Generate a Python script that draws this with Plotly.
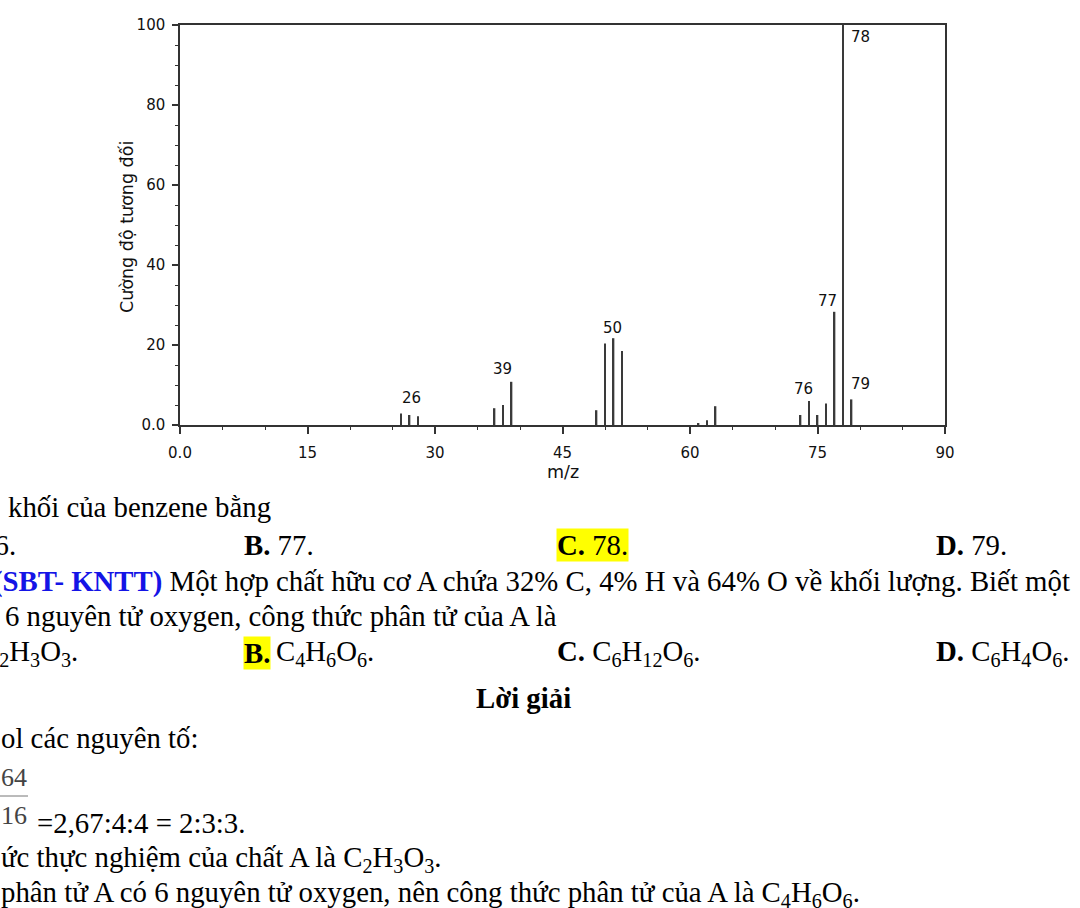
import plotly.graph_objects as go

# ---- data ----
mz = [26, 27, 28, 37, 38, 39, 49, 50, 51, 52, 61, 62, 63, 73, 74, 75, 76, 77, 78, 79]
intensity = [2.9, 2.5, 2.2, 4.2, 5.0, 10.8, 3.7, 20.4, 21.7, 18.5, 0.5, 1.2, 4.7,
             2.5, 6.0, 2.5, 5.4, 28.3, 100, 6.4]

x_tickvals = [0, 15, 30, 45, 60, 75, 90]
x_ticktext = ["0.0", "15", "30", "45", "60", "75", "90"]
y_tickvals = [0, 20, 40, 60, 80, 100]
y_ticktext = ["0.0", "20", "40", "60", "80", "100"]

peak_labels = ["26", "39", "50", "76", "77", "78", "79"]
peak_label_x = [27.2, 37.9, 50.9, 73.3, 76.2, 80.0, 80.1]
peak_label_y = [6.8, 14.0, 24.3, 9.0, 31.1, 97.0, 10.3]

W, H = 1080, 908

fig = go.Figure()
fig.add_trace(go.Bar(x=mz, y=intensity, width=0.2,
                     marker=dict(color="#3a3a3a", line=dict(width=0)),
                     showlegend=False, hoverinfo="x+y"))
# invisible full-page pixel coordinate system used to place the page text
fig.add_trace(go.Scatter(x=[], y=[], xaxis="x2", yaxis="y2", showlegend=False,
                         hoverinfo="skip"))

axis_font = dict(family="DejaVu Sans", size=15, color="#111")
line_col = "#333"

fig.update_layout(
    width=W, height=H,
    margin=dict(l=0, r=0, t=0, b=0, autoexpand=False),
    paper_bgcolor="white", plot_bgcolor="rgba(0,0,0,0)",
    xaxis=dict(domain=[180 / W, 945 / W], range=[0, 90], anchor="y",
               tickvals=x_tickvals, ticktext=x_ticktext,
               ticks="outside", ticklen=7, tickwidth=1.5, tickcolor=line_col,
               minor=dict(dtick=5, tick0=0, ticks="outside", ticklen=3,
                          tickwidth=1, tickcolor=line_col),
               showline=True, mirror=True, linecolor=line_col, linewidth=1.5,
               showgrid=False, zeroline=False, tickfont=axis_font,
               ticklabelstandoff=6, automargin=False, fixedrange=True),
    yaxis=dict(domain=[1 - 425 / H, 1 - 25 / H], range=[0, 100], anchor="x",
               tickvals=y_tickvals, ticktext=y_ticktext,
               ticks="outside", ticklen=6, tickwidth=1.5, tickcolor=line_col,
               minor=dict(dtick=5, tick0=0, ticks="outside", ticklen=3,
                          tickwidth=1, tickcolor=line_col),
               showline=True, mirror=True, linecolor=line_col, linewidth=1.5,
               showgrid=False, zeroline=False, tickfont=axis_font,
               ticklabelstandoff=4, automargin=False, fixedrange=True),
    xaxis2=dict(domain=[0, 1], range=[0, W], anchor="y2", visible=False,
                fixedrange=True, automargin=False),
    yaxis2=dict(domain=[0, 1], range=[H, 0], anchor="x2", visible=False,
                fixedrange=True, automargin=False),
)

annotations = []
for t, lx, ly in zip(peak_labels, peak_label_x, peak_label_y):
    annotations.append(dict(x=lx, y=ly, xref="x", yref="y", text=t, showarrow=False,
                            font=axis_font, xanchor="center", yanchor="middle"))

title_font = dict(family="DejaVu Sans", size=17.5, color="#111")
serif = dict(family="Liberation Serif", size=28.8, color="black")


def txt(x, y, text, anchor="left", bg=None, font=None, angle=0, xshift=0):
    d = dict(x=x, y=y, xref="x2", yref="y2", text=text, showarrow=False,
             font=font or serif, xanchor=anchor, yanchor="middle", borderpad=0,
             textangle=angle, xshift=xshift)
    if bg:
        d["bgcolor"] = bg
    annotations.append(d)


# axis titles
txt(563, 472, "m/z", anchor="center", font=title_font)
txt(127, 227, "Cường độ tương đối", anchor="center", font=title_font, angle=-90)


def chem(s):
    out = ""
    for ch in s:
        out += f"<sub>{ch}</sub>" if ch.isdigit() else ch
    return out


txt(7, 507, "khối của benzene bằng")
txt(17, 545, "<b>A.</b> 76.", anchor="right")
txt(243, 545, "<b>B.</b> 77.")
txt(556, 545, "<b>C.</b> 78.", bg="#FFFF00")
txt(935, 545, "<b>D.</b> 79.")

txt(0, 581, "<span style='color:#1414E6'><b>(SBT- KNTT)</b></span> Một hợp chất hữu cơ A chứa 32% C, 4% H và 64% O về khối lượng. Biết một",
    xshift=-8)
txt(4, 616, "6 nguyên tử oxygen, công thức phân tử của A là")
txt(0, 653, chem("C2H3O3") + ".", xshift=-21)
txt(243, 653, "<b>B.</b>", bg="#FFFF00")
txt(275, 653, chem("C4H6O6") + ".")
txt(556, 653, "<b>C.</b> " + chem("C6H12O6") + ".")
txt(935, 653, "<b>D.</b> " + chem("C6H4O6") + ".")

txt(523, 698, "<b>Lời giải</b>", anchor="center")
txt(0, 738, "ol các nguyên tố:")
frac_font = dict(family="Liberation Serif", size=26, color="#444")
txt(0, 777, "64", font=frac_font)
txt(0, 815, "16", font=frac_font)
txt(36, 823, "=2,67:4:4 = 2:3:3.")
txt(0, 859, "ức thực nghiệm của chất A là " + chem("C2H3O3") + ".")
txt(0, 894, "phân tử A có 6 nguyên tử oxygen, nên công thức phân tử của A là " + chem("C4H6O6") + ".")

fig.update_layout(annotations=annotations,
                  shapes=[dict(type="line", xref="x2", yref="y2",
                               x0=0, x1=28, y0=796, y1=796,
                               line=dict(color="#777", width=1))])

fig.write_html("out.html", config={"displayModeBar": False},
               post_script="document.body.style.margin='0';document.body.style.overflow='hidden';")
